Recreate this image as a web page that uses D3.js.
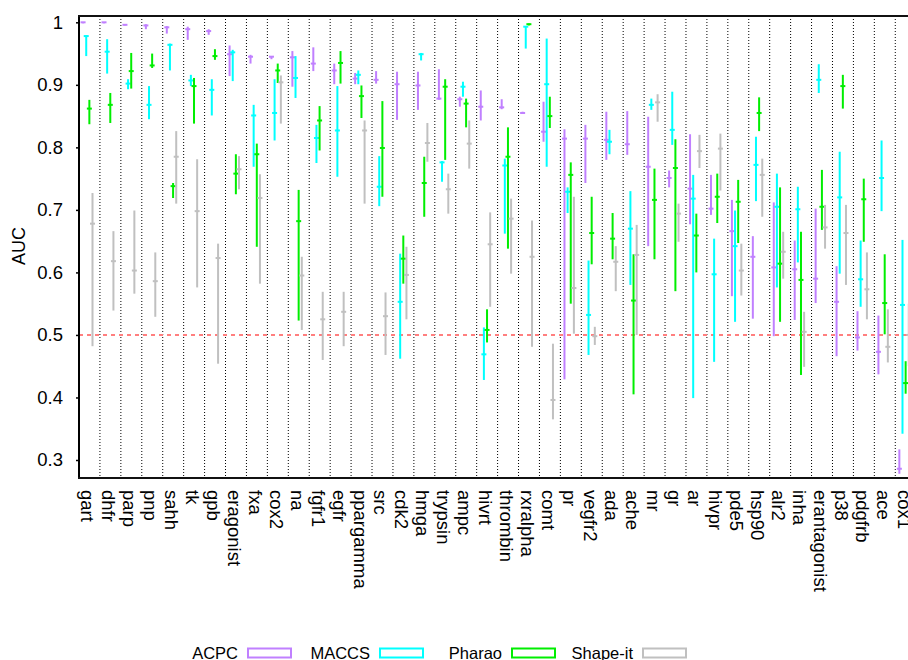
<!DOCTYPE html>
<html>
<head>
<meta charset="utf-8">
<script src="https://cdnjs.cloudflare.com/ajax/libs/d3/7.8.5/d3.min.js"></script>
<style>
body { margin: 0; background: #fff; }
text { font-family: "Liberation Sans", Arial, Helvetica, sans-serif; fill: #000; }
</style>
</head>
<body>
<div id="myVis"></div>
<script>

// targets along the x axis
const categories = ["gart","dhfr","parp","pnp","sahh","tk","gpb","eragonist","fxa","cox2",
  "na","fgfr1","egfr","ppargamma","src","cdk2","hmga","trypsin","ampc","hivrt",
  "thrombin","rxralpha","comt","pr","vegfr2","ada","ache","mr","gr","ar",
  "hivpr","pde5","hsp90","alr2","inha","erantagonist","p38","pdgfrb","ace","cox1"]

const seriesNames = ["ACPC", "MACCS", "Pharao", "Shape-it"]

// [low, median, high] AUC per target
const acpc = [
  [0.999,1.000,1.000],[0.999,1.000,1.000],[0.995,0.996,0.997],[0.989,0.995,0.997],[0.982,0.992,0.994],
  [0.972,0.989,0.993],[0.980,0.986,0.989],[0.914,0.949,0.963],[0.934,0.945,0.948],[0.941,0.945,0.946],
  [0.897,0.944,0.954],[0.922,0.934,0.960],[0.901,0.923,0.934],[0.901,0.910,0.919],[0.902,0.908,0.922],
  [0.844,0.901,0.921],[0.860,0.899,0.921],[0.876,0.878,0.925],[0.865,0.877,0.881],[0.843,0.865,0.891],
  [0.861,0.864,0.877],[0.854,0.855,0.857],[0.809,0.825,0.873],[0.429,0.814,0.829],[0.743,0.814,0.836],
  [0.780,0.812,0.857],[0.788,0.805,0.858],[0.642,0.769,0.849],[0.736,0.751,0.763],[0.677,0.734,0.821],
  [0.692,0.702,0.756],[0.562,0.666,0.716],[0.526,0.625,0.658],[0.498,0.608,0.712],[0.524,0.605,0.651],
  [0.551,0.590,0.702],[0.466,0.553,0.610],[0.475,0.496,0.538],[0.437,0.473,0.531],[0.278,0.286,0.317]
]

const maccs = [
  [0.946,0.978,0.979],[0.918,0.953,0.973],[0.893,0.902,0.909],[0.845,0.868,0.898],[0.923,0.964,0.966],
  [0.898,0.907,0.916],[0.851,0.892,0.909],[0.906,0.952,0.956],[0.769,0.851,0.868],[0.811,0.855,0.909],
  [0.879,0.911,0.946],[0.775,0.815,0.836],[0.753,0.827,0.898],[0.901,0.916,0.923],[0.706,0.737,0.786],
  [0.462,0.553,0.630],[0.939,0.949,0.951],[0.745,0.776,0.778],[0.881,0.897,0.905],[0.428,0.469,0.512],
  [0.662,0.771,0.782],[0.958,0.993,0.994],[0.769,0.901,0.974],[0.695,0.729,0.736],[0.468,0.532,0.619],
  [0.789,0.809,0.828],[0.580,0.670,0.730],[0.860,0.868,0.878],[0.804,0.828,0.889],[0.399,0.718,0.756],
  [0.457,0.597,0.654],[0.521,0.642,0.699],[0.714,0.772,0.817],[0.576,0.705,0.758],[0.616,0.701,0.737],
  [0.887,0.908,0.933],[0.598,0.720,0.793],[0.545,0.589,0.651],[0.698,0.751,0.811],[0.342,0.548,0.652]
]

const pharao = [
  [0.837,0.862,0.876],[0.839,0.868,0.887],[0.894,0.922,0.951],[0.927,0.931,0.950],[0.719,0.738,0.743],
  [0.838,0.898,0.911],[0.940,0.946,0.957],[0.725,0.758,0.789],[0.641,0.789,0.806],[0.903,0.923,0.934],
  [0.523,0.682,0.732],[0.795,0.843,0.866],[0.902,0.935,0.954],[0.847,0.882,0.899],[0.721,0.799,0.874],
  [0.582,0.622,0.659],[0.689,0.743,0.785],[0.780,0.897,0.909],[0.832,0.870,0.878],[0.488,0.508,0.541],
  [0.638,0.785,0.832],[0.995,0.997,0.998],[0.831,0.850,0.881],[0.550,0.756,0.776],[0.613,0.663,0.721],
  [0.621,0.654,0.695],[0.405,0.555,0.629],[0.621,0.716,0.766],[0.570,0.767,0.813],[0.600,0.659,0.694],
  [0.679,0.721,0.758],[0.647,0.713,0.748],[0.826,0.855,0.880],[0.521,0.614,0.736],[0.436,0.588,0.665],
  [0.668,0.705,0.764],[0.862,0.898,0.916],[0.649,0.717,0.750],[0.501,0.551,0.629],[0.406,0.423,0.458]
]

const shapeit = [
  [0.482,0.678,0.727],[0.539,0.618,0.666],[0.566,0.603,0.699],[0.529,0.586,0.632],[0.710,0.785,0.826],
  [0.576,0.698,0.781],[0.454,0.623,0.646],[0.733,0.765,0.786],[0.582,0.719,0.757],[0.838,0.904,0.915],
  [0.508,0.595,0.625],[0.460,0.525,0.569],[0.482,0.537,0.569],[0.710,0.827,0.843],[0.468,0.530,0.568],
  [0.525,0.596,0.641],[0.777,0.807,0.839],[0.694,0.733,0.758],[0.766,0.806,0.843],[0.545,0.645,0.696],
  [0.598,0.686,0.718],[0.481,0.625,0.683],[0.365,0.396,0.486],[0.502,0.575,0.721],[0.484,0.498,0.513],
  [0.570,0.617,0.642],[0.500,0.628,0.676],[0.841,0.872,0.885],[0.649,0.694,0.710],[0.767,0.794,0.820],
  [0.731,0.798,0.822],[0.563,0.603,0.646],[0.689,0.756,0.782],[0.590,0.633,0.665],[0.449,0.505,0.537],
  [0.638,0.672,0.708],[0.580,0.663,0.708],[0.525,0.573,0.632],[0.456,0.481,0.541],[0.450,0.500,0.550]
]

const yTicks = [0.3, 0.4, 0.5, 0.6, 0.7, 0.8, 0.9, 1]
const yTickLabels = ["0.3", "0.4", "0.5", "0.6", "0.7", "0.8", "0.9", "1"]
const refLine = 0.5

const allSeries = [acpc, maccs, pharao, shapeit]
const colors = ["#c080ff", "#00ffff", "#00ee00", "#c0c0c0"]

var margin = {top: 16, left: 79},
    bandStep = 20.93,
    width = bandStep * categories.length,
    height = 462

const svg = d3.select("#myVis")
    .append("svg")
        .attr("width", 908)
        .attr("height", 660)

const canvas = svg.append("g")
    .attr("transform", "translate(" + margin.left + "," + margin.top + ")")

// scales
var xScale = d3.scaleBand()
    .domain(categories)
    .range([0, width])

var bw = xScale.bandwidth()

var subScale = d3.scaleBand()
    .domain(seriesNames)
    .range([0.12 * bw, 0.72 * bw])

var yScale = d3.scaleLinear()
    .domain([0.2712, 1.0101])
    .range([height, 0])

// dotted separators between targets
canvas.append("g")
    .selectAll("line")
    .data(categories.slice(1))
    .enter()
    .append("line")
        .attr("x1", d => xScale(d))
        .attr("x2", d => xScale(d))
        .attr("y1", 0)
        .attr("y2", height)
        .attr("stroke", "#000")
        .attr("stroke-width", 1)
        .attr("stroke-dasharray", "1,2")

// random level
canvas.append("line")
    .attr("x1", 0)
    .attr("x2", width)
    .attr("y1", yScale(refLine))
    .attr("y2", yScale(refLine))
    .attr("stroke", "#ff7f7f")
    .attr("stroke-width", 2)
    .attr("stroke-dasharray", "4,4")

// y axis
var yAxis = canvas.append("g")
    .call(d3.axisLeft(yScale)
        .tickValues(yTicks)
        .tickFormat((d, i) => yTickLabels[i])
        .tickSize(3)
        .tickSizeOuter(0)
        .tickPadding(13))

yAxis.select(".domain").remove()
yAxis.selectAll("line").attr("stroke", "#000").attr("stroke-width", 1.5)
yAxis.selectAll("text")
    .attr("font-size", 18.5)
    .attr("font-family", "Liberation Sans, Arial, sans-serif")

// frame lines
canvas.append("line")
    .attr("x1", 0).attr("x2", 0).attr("y1", -1).attr("y2", height + 1)
    .attr("stroke", "#000").attr("stroke-width", 2)
canvas.append("line")
    .attr("x1", -1).attr("x2", width).attr("y1", 0).attr("y2", 0)
    .attr("stroke", "#111").attr("stroke-width", 2)
canvas.append("line")
    .attr("x1", -1).attr("x2", width).attr("y1", height).attr("y2", height)
    .attr("stroke", "#111").attr("stroke-width", 2)

// x labels, rotated
canvas.append("g")
    .selectAll("text")
    .data(categories)
    .enter()
    .append("text")
        .attr("transform", d => "translate(" + (xScale(d) + bw / 2 - 1.5) + "," + (height + 12) + ") rotate(90)")
        .attr("text-anchor", "start")
        .attr("dominant-baseline", "central")
        .attr("font-size", 18.5)
        .text(d => d)

// y label
svg.append("text")
    .attr("transform", "translate(25,246) rotate(-90)")
    .attr("text-anchor", "middle")
    .attr("font-size", 18)
    .text("AUC")

// range bars with median ticks
allSeries.forEach((series, si) => {
    const rows = series.map((v, i) => ({cat: categories[i], lo: v[0], med: v[1], hi: v[2]}))
    const cx = d => xScale(d.cat) + subScale(seriesNames[si]) + subScale.bandwidth() / 2
    const g = canvas.append("g")

    g.selectAll("rect.bar")
        .data(rows)
        .enter()
        .append("rect")
            .attr("class", "bar")
            .attr("x", d => cx(d) - 1)
            .attr("y", d => yScale(d.hi))
            .attr("width", 2)
            .attr("height", d => Math.max(1, yScale(d.lo) - yScale(d.hi)))
            .attr("fill", colors[si])

    g.selectAll("rect.med")
        .data(rows)
        .enter()
        .append("rect")
            .attr("class", "med")
            .attr("x", d => cx(d) - 2.5)
            .attr("y", d => yScale(d.med) - 1)
            .attr("width", 5)
            .attr("height", 2)
            .attr("fill", colors[si])
})

// legend
const legendX = [248, 380, 512, 643]
const legend = svg.append("g")
seriesNames.forEach((name, i) => {
    legend.append("text")
        .attr("x", legendX[i] - 10)
        .attr("y", 658.5)
        .attr("text-anchor", "end")
        .attr("font-size", 16.5)
        .text(name)
    legend.append("rect")
        .attr("x", legendX[i])
        .attr("y", 648.5)
        .attr("width", 43)
        .attr("height", 9)
        .attr("fill", "#fff")
        .attr("stroke", colors[i])
        .attr("stroke-width", 2)
})

</script>
</body>
</html>
